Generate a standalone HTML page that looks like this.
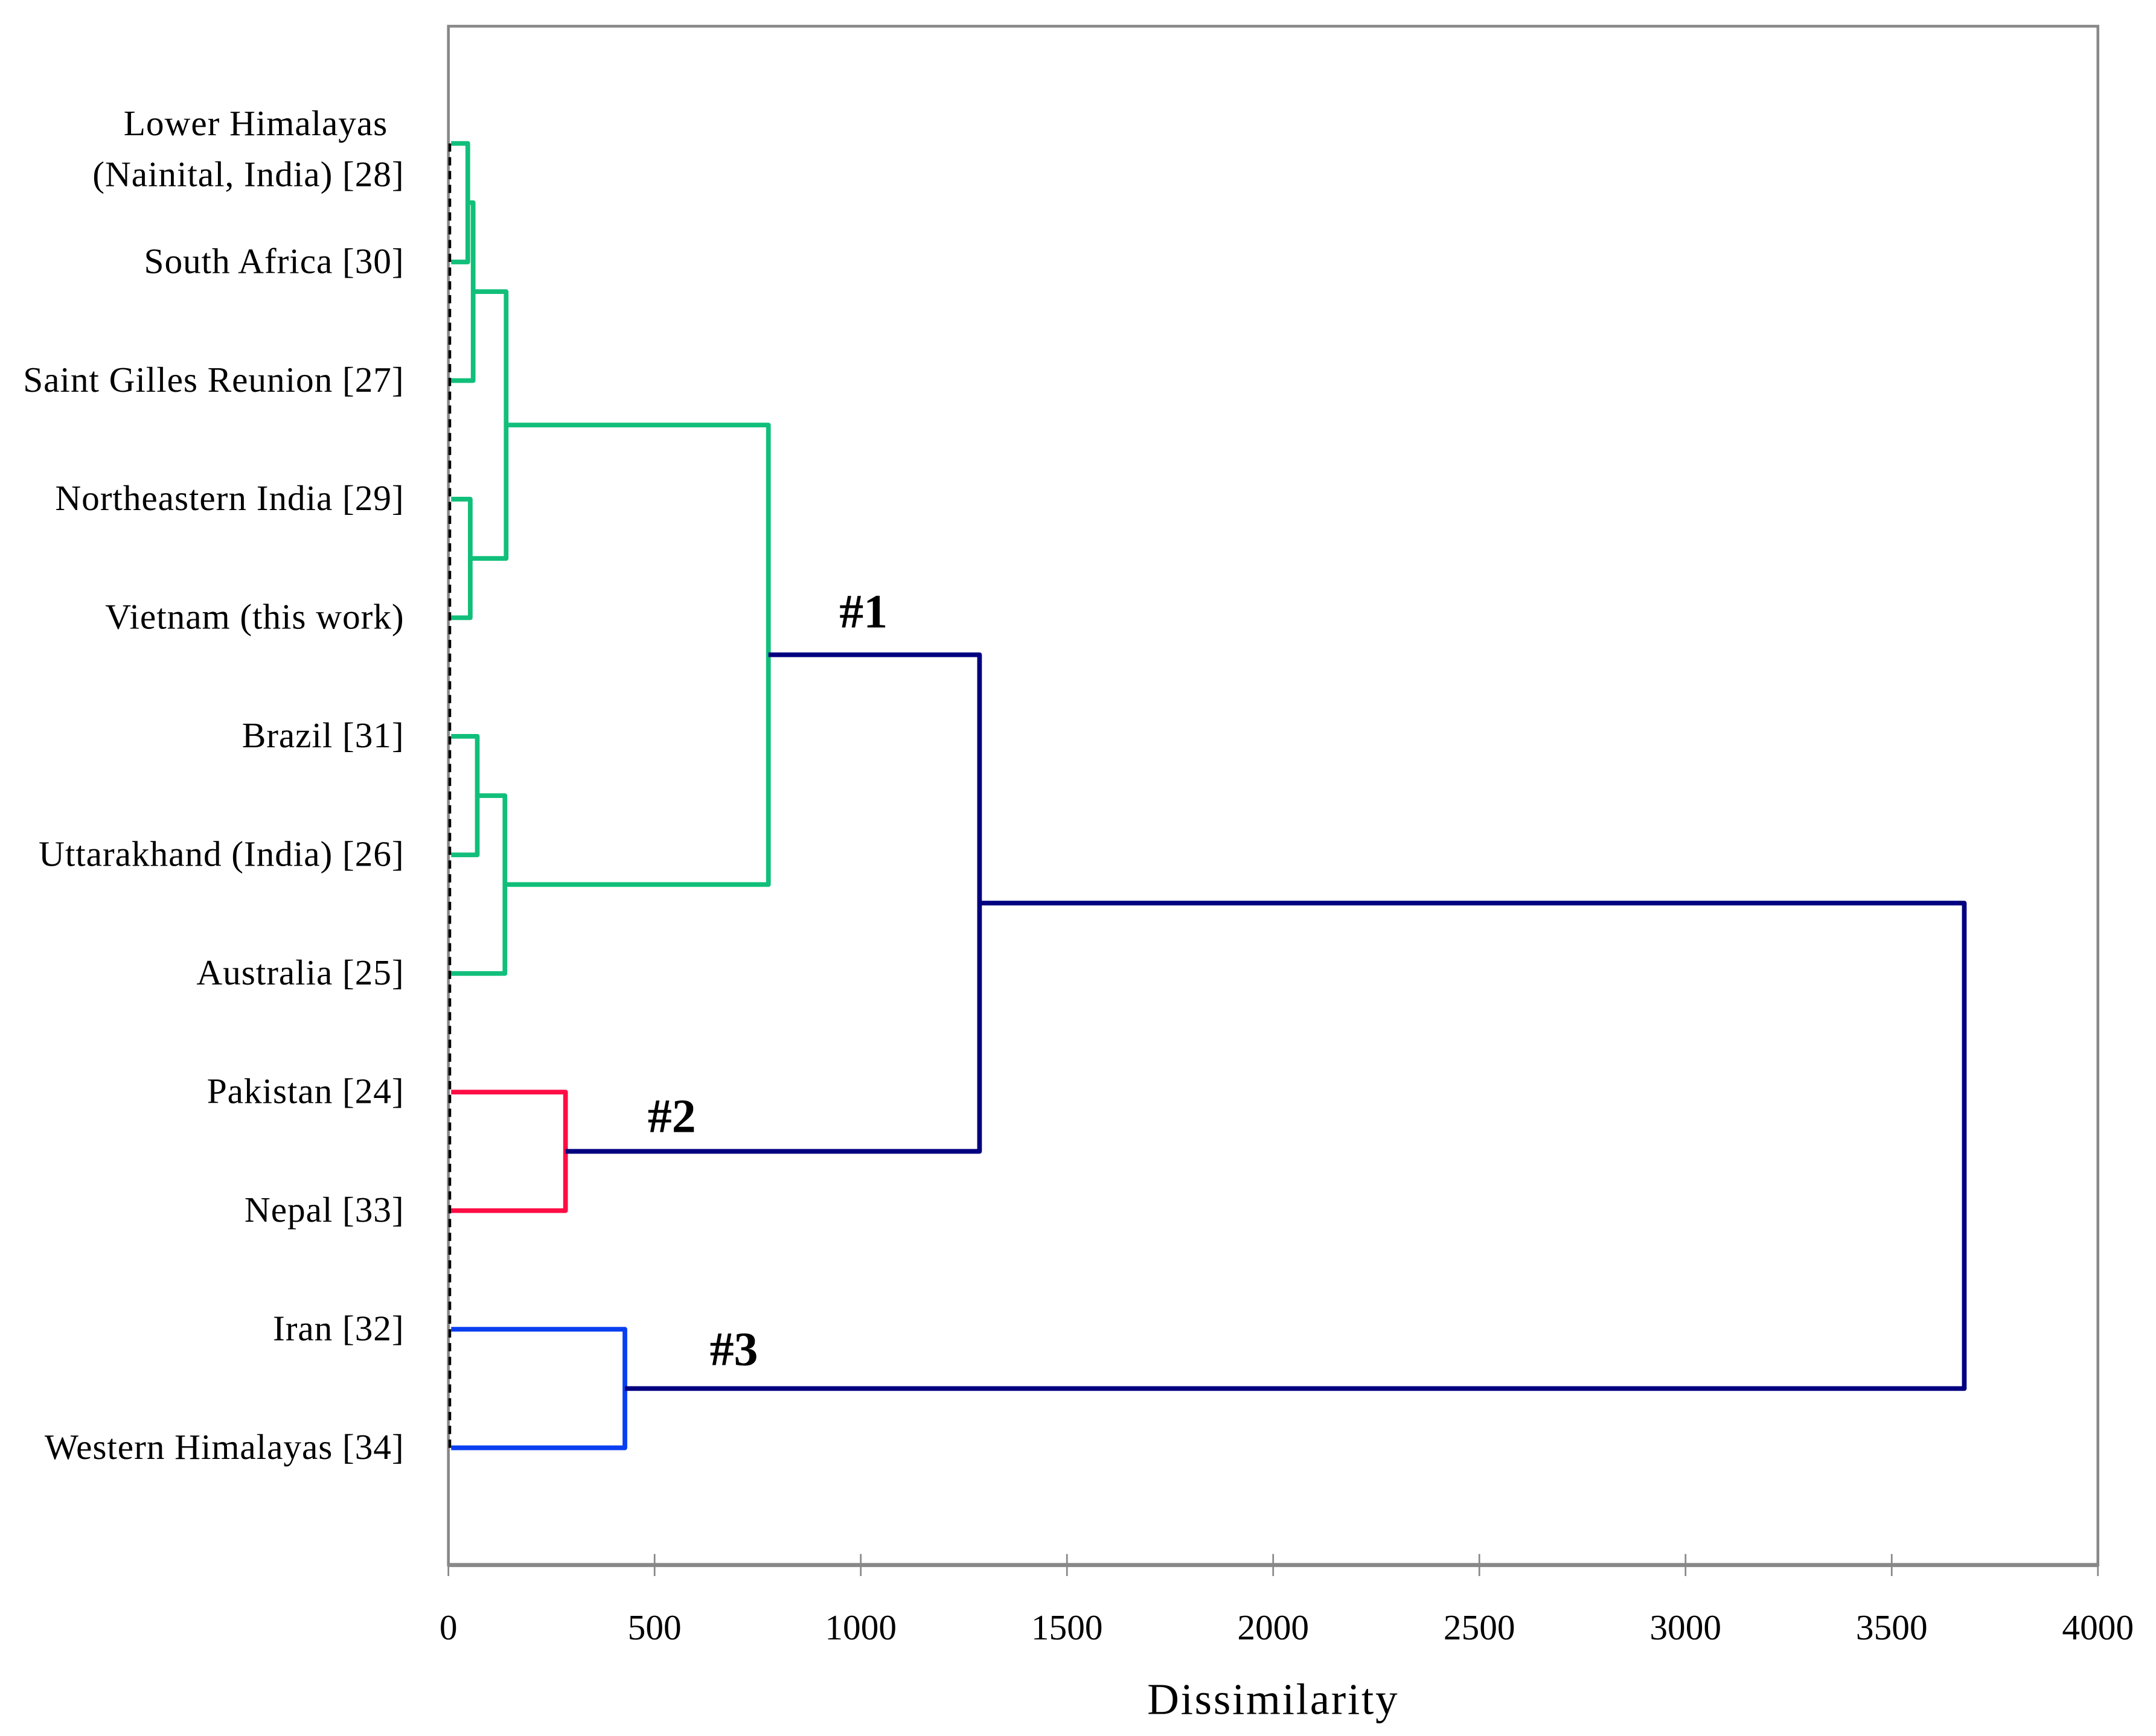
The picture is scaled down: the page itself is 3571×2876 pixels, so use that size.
<!DOCTYPE html>
<html><head><meta charset="utf-8"><style>
html,body{margin:0;padding:0;background:#fff;}
svg{display:block;}
text{font-family:"Liberation Serif",serif;fill:#000;}
</style></head><body>
<svg id="chart" width="3571" height="2876" viewBox="0 0 1563 1259" xmlns="http://www.w3.org/2000/svg">
<g id="frame"></g>
<g id="tree"></g>
<g id="labels"></g>
<g id="axis"></g>
<text x="923" y="1243" font-size="32" letter-spacing="1.2" text-anchor="middle">Dissimilarity</text>
<text x="626" y="455" font-size="35" font-weight="bold" text-anchor="middle">#1</text>
<text x="487" y="821" font-size="35" font-weight="bold" text-anchor="middle">#2</text>
<text x="532" y="990" font-size="35" font-weight="bold" text-anchor="middle">#3</text>
</svg>
<script>
const leafNames = [["Lower Himalayas","(Nainital, India) [28]"],["South Africa [30]"],["Saint Gilles Reunion [27]"],["Northeastern India [29]"],["Vietnam (this work)"],["Brazil [31]"],["Uttarakhand (India) [26]"],["Australia [25]"],["Pakistan [24]"],["Nepal [33]"],["Iran [32]"],["Western Himalayas [34]"]];
// merges: [left, right, height]; negative = leaf index (-(i+1)), positive = merge index (1-based)
const mergeLeft = [-1, 1, -4, 2, -6, 5, 4, -9, -11, 7, 10];
const mergeRight = [-2, -3, -5, 3, -7, -8, 6, -10, -12, 8, 9];
const mergeHeights = [47, 60, 53, 140, 70, 137, 776, 284, 428, 1288, 3676];
const mergeColors = ["#11bf7a","#11bf7a","#11bf7a","#11bf7a","#11bf7a","#11bf7a","#11bf7a","#ff0d45","#0a3ff0","#000080","#000080"];
const xTicks = [0,500,1000,1500,2000,2500,3000,3500,4000];

const NS="http://www.w3.org/2000/svg";
const X0=325,X1=1521,Y0=19,YB=1135;
const xs=v=>X0+(v/4000)*(X1-X0);
const leafY=i=>104+i*(1050-104)/(leafNames.length-1);
function mk(tag,attrs,parent){const e=document.createElementNS(NS,tag);for(const k in attrs)e.setAttribute(k,attrs[k]);parent.appendChild(e);return e;}
const frame=document.getElementById('frame'),tree=document.getElementById('tree'),labels=document.getElementById('labels'),axis=document.getElementById('axis');

let r=mk('rect',{x:X0,y:Y0,width:X1-X0,height:YB-Y0,fill:'none',stroke:'#888',"stroke-width":2},frame);


let ax=mk('line',{x1:X0,x2:X1,y1:YB,y2:YB,stroke:'#888',"stroke-width":3},axis);


xTicks.forEach(t=>{
  const x=xs(t);
  const l=mk('line',{x1:x,x2:x,y1:YB-8,y2:YB+8,stroke:'#888',"stroke-width":1.2},axis);
  
  
  const tx=mk('text',{x:x,y:1189,"font-size":26,"text-anchor":"middle"},axis);
  tx.textContent=t;
  
  
});

leafNames.forEach((n,i)=>{
  const y=leafY(i);
  const t=mk('text',{x:293,"font-size":26,"letter-spacing":0.4,"text-anchor":"end"},labels);
  
  
  if(n.length===1){t.setAttribute('y',y+8);t.textContent=n[0];}
  else{
    const a=mk('tspan',{x:281,y:y-6},t);a.textContent=n[0];
    const b=mk('tspan',{x:293,y:y+31},t);b.textContent=n[1];
  }
});

const pos=[];
function nodePos(id){ if(id<0) return {x:xs(0)+2,y:leafY(-id-1)}; return pos[id-1]; }
mergeHeights.forEach((h,i)=>{
  const a=nodePos(mergeLeft[i]),b=nodePos(mergeRight[i]);
  const x=xs(h);
  const p=mk('path',{d:`M${a.x},${a.y}H${x}V${b.y}H${b.x}`,fill:'none',stroke:mergeColors[i],"stroke-width":3.4,"stroke-linejoin":"round"},tree);
  
  
  pos.push({x:x,y:(a.y+b.y)/2});
});
let d=mk('line',{x1:326,x2:326,y1:leafY(0),y2:leafY(leafNames.length-1),stroke:'#000',"stroke-width":2,"stroke-dasharray":"6,4"},tree);


</script>
</body></html>
